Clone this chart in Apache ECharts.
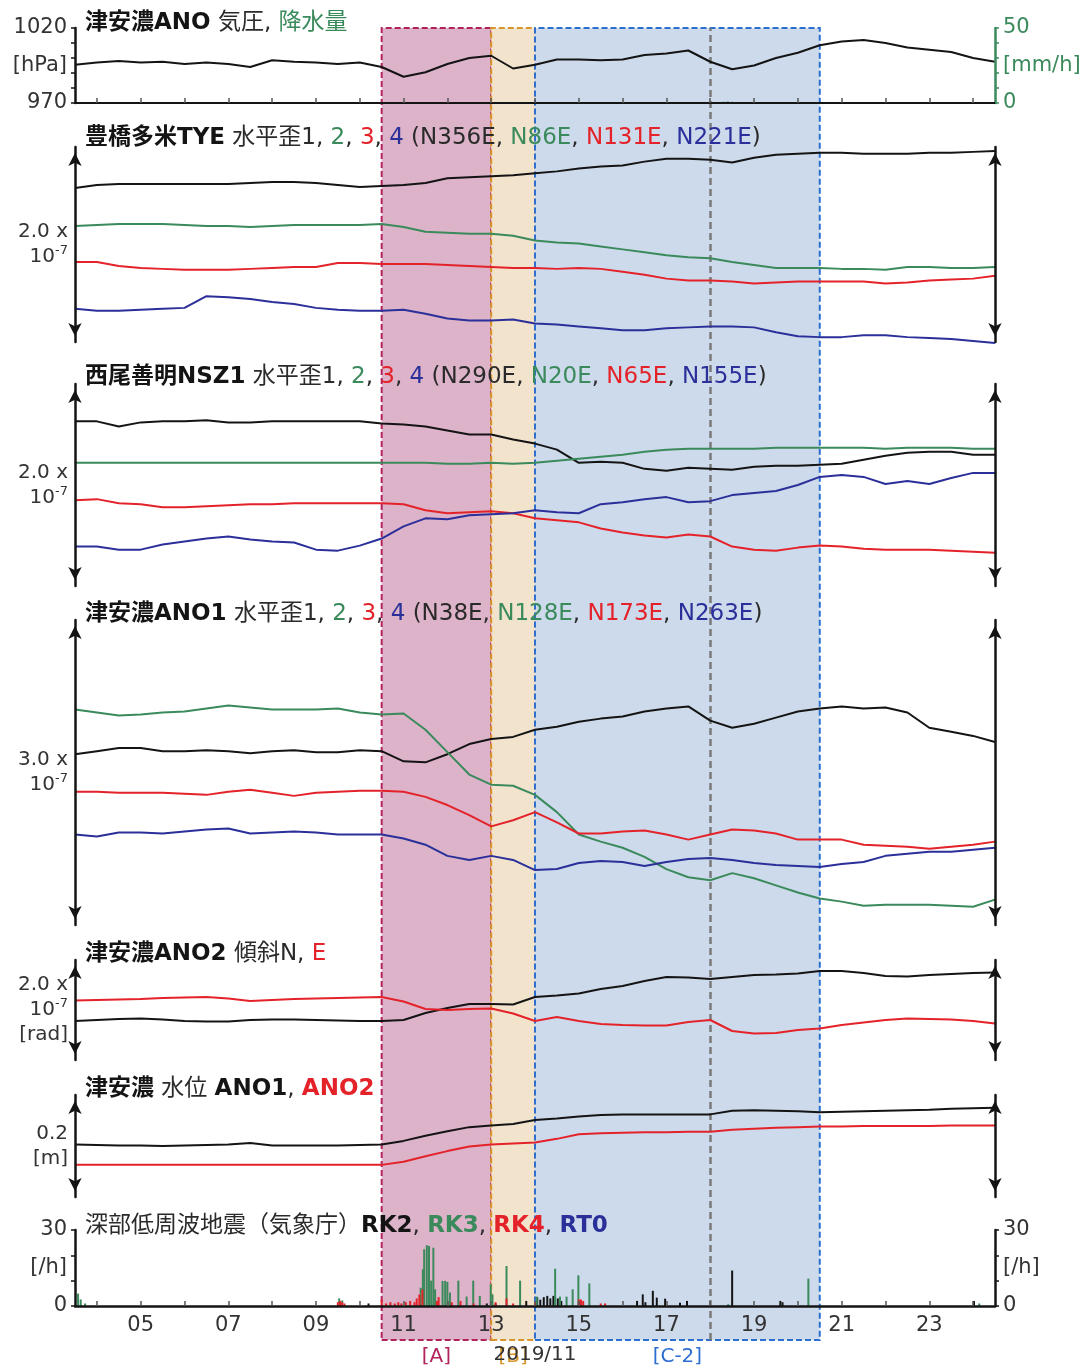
<!DOCTYPE html>
<html lang="ja">
<head>
<meta charset="utf-8">
<title>津安濃 観測データ 2019/11</title>
<script src="https://cdn.jsdelivr.net/npm/echarts@6.0.0/dist/echarts.min.js"></script>
<style>
html, body { margin: 0; padding: 0; background: #fff; }
#chart { width: 1089px; height: 1371px; }
</style>
</head>
<body>
<div id="chart"></div>
<script>
// ---- time axis: days of November 2019, 12-hour steps ----
const days = [3.5,4,4.5,5,5.5,6,6.5,7,7.5,8,8.5,9,9.5,10,10.5,11,11.5,12,12.5,13,13.5,14,14.5,15,15.5,16,16.5,17,17.5,18,18.5,19,19.5,20,20.5,21,21.5,22,22.5,23,23.5,24,24.5];
const tickDays = [4,5,6,7,8,9,10,11,12,13,14,15,16,17,18,19,20,21,22,23,24];
const labelDays = [5,7,9,11,13,15,17,19,21,23];

// ---- analysis periods ----
const periodNames = ['[A]', '[B]', '[C-2]'];
const periodStart = [10.5, 13, 14];
const periodEnd = [13, 14, 20.5];
const eventDay = 18;

// ---- 津安濃ANO: air pressure [hPa], precipitation [mm/h] ----
const pressure = [995.5,997,998,997,997.5,996,997,996,994,998.5,997.5,997,996,997,994,987.5,990.5,996,1000,1001.5,993,995.5,999,999,998.5,999,1002,1003,1005,997.5,992.5,995,1000,1003.5,1008.5,1011,1012,1010,1007,1005.5,1004,1000,997.5];
const rainfall = [[18.3,0.8],[18.4,1],[18.5,0.8]];

// ---- 豊橋多米TYE horizontal strain [1e-7] ----
const tyeN356E = [1.58,1.61,1.62,1.62,1.62,1.62,1.62,1.62,1.63,1.64,1.64,1.63,1.61,1.59,1.60,1.61,1.63,1.68,1.69,1.70,1.71,1.73,1.75,1.78,1.80,1.81,1.85,1.88,1.88,1.87,1.84,1.89,1.92,1.93,1.94,1.94,1.93,1.93,1.93,1.94,1.94,1.95,1.96];
const tyeN86E = [1.19,1.20,1.21,1.21,1.21,1.20,1.19,1.19,1.18,1.19,1.20,1.20,1.20,1.20,1.21,1.18,1.13,1.12,1.11,1.11,1.09,1.04,1.02,1.01,0.98,0.95,0.92,0.89,0.87,0.86,0.82,0.79,0.76,0.76,0.76,0.75,0.75,0.74,0.77,0.77,0.76,0.76,0.77];
const tyeN131E = [0.82,0.82,0.78,0.76,0.75,0.74,0.74,0.74,0.75,0.76,0.77,0.77,0.81,0.81,0.80,0.80,0.80,0.79,0.78,0.77,0.76,0.76,0.75,0.76,0.75,0.72,0.69,0.65,0.63,0.63,0.62,0.60,0.61,0.62,0.62,0.62,0.62,0.60,0.61,0.63,0.64,0.65,0.68];
const tyeN221E = [0.34,0.32,0.32,0.33,0.34,0.35,0.47,0.46,0.44,0.41,0.39,0.35,0.33,0.32,0.32,0.33,0.29,0.24,0.22,0.22,0.23,0.19,0.18,0.16,0.14,0.12,0.12,0.14,0.15,0.16,0.16,0.15,0.10,0.06,0.05,0.05,0.07,0.07,0.05,0.04,0.03,0.01,-0.01];

// ---- 西尾善明NSZ1 horizontal strain [1e-7] ----
const nszN290E = [1.63,1.63,1.58,1.62,1.63,1.63,1.64,1.62,1.62,1.63,1.63,1.63,1.63,1.63,1.61,1.60,1.58,1.54,1.50,1.50,1.45,1.41,1.35,1.22,1.23,1.22,1.16,1.14,1.17,1.16,1.15,1.18,1.19,1.19,1.20,1.21,1.25,1.29,1.32,1.33,1.33,1.30,1.30];
const nszN20E = [1.22,1.22,1.22,1.22,1.22,1.22,1.22,1.22,1.22,1.22,1.22,1.22,1.22,1.22,1.22,1.22,1.22,1.21,1.21,1.22,1.21,1.22,1.24,1.26,1.28,1.30,1.33,1.35,1.36,1.36,1.36,1.36,1.37,1.37,1.37,1.37,1.37,1.36,1.37,1.37,1.37,1.36,1.36];
const nszN65E = [0.85,0.86,0.82,0.81,0.78,0.78,0.79,0.80,0.81,0.81,0.82,0.82,0.82,0.82,0.82,0.81,0.75,0.72,0.73,0.74,0.72,0.67,0.65,0.63,0.57,0.53,0.50,0.48,0.51,0.49,0.39,0.36,0.35,0.38,0.40,0.39,0.37,0.36,0.36,0.36,0.35,0.34,0.33];
const nszN155E = [0.39,0.39,0.36,0.36,0.41,0.44,0.47,0.49,0.46,0.44,0.43,0.36,0.35,0.40,0.47,0.59,0.67,0.66,0.70,0.71,0.72,0.75,0.73,0.72,0.81,0.83,0.86,0.88,0.83,0.84,0.90,0.92,0.94,1.00,1.08,1.10,1.08,1.01,1.04,1.01,1.07,1.12,1.12];

// ---- 津安濃ANO1 horizontal strain [1e-7] ----
const ano1N38E = [1.68,1.71,1.74,1.74,1.71,1.71,1.72,1.71,1.69,1.71,1.72,1.70,1.70,1.72,1.71,1.61,1.60,1.68,1.78,1.83,1.85,1.92,1.95,2.00,2.03,2.05,2.10,2.13,2.15,2.01,1.94,1.98,2.04,2.10,2.13,2.15,2.13,2.14,2.09,1.94,1.90,1.86,1.80];
const ano1N128E = [2.12,2.09,2.06,2.07,2.09,2.10,2.13,2.16,2.14,2.12,2.12,2.12,2.13,2.09,2.07,2.08,1.92,1.70,1.48,1.38,1.37,1.28,1.11,0.89,0.82,0.76,0.67,0.55,0.47,0.44,0.51,0.46,0.39,0.32,0.26,0.23,0.19,0.20,0.20,0.20,0.19,0.18,0.25];
const ano1N173E = [1.31,1.31,1.30,1.30,1.30,1.29,1.28,1.31,1.33,1.30,1.27,1.30,1.31,1.32,1.32,1.31,1.26,1.18,1.08,0.97,1.03,1.11,1.01,0.90,0.90,0.92,0.93,0.89,0.84,0.89,0.94,0.93,0.90,0.84,0.84,0.84,0.79,0.78,0.77,0.75,0.77,0.79,0.82];
const ano1N263E = [0.89,0.87,0.91,0.91,0.90,0.92,0.94,0.95,0.90,0.91,0.92,0.91,0.89,0.89,0.89,0.85,0.79,0.68,0.64,0.68,0.64,0.54,0.55,0.61,0.63,0.62,0.58,0.62,0.65,0.66,0.64,0.61,0.59,0.58,0.57,0.60,0.62,0.68,0.70,0.72,0.72,0.74,0.76];

// ---- 津安濃ANO2 tilt [1e-7 rad] ----
const ano2TiltN = [0.78,0.80,0.82,0.83,0.81,0.78,0.77,0.77,0.80,0.81,0.81,0.80,0.79,0.78,0.78,0.80,0.94,1.04,1.12,1.12,1.11,1.26,1.29,1.33,1.42,1.48,1.58,1.66,1.65,1.62,1.66,1.70,1.71,1.73,1.78,1.78,1.74,1.68,1.67,1.70,1.72,1.74,1.75];
const ano2TiltE = [1.19,1.20,1.21,1.22,1.24,1.25,1.26,1.23,1.18,1.20,1.22,1.23,1.24,1.25,1.26,1.17,1.02,1.00,1.02,1.03,0.93,0.78,0.86,0.78,0.72,0.70,0.69,0.69,0.76,0.80,0.58,0.53,0.54,0.60,0.63,0.70,0.75,0.80,0.83,0.82,0.81,0.78,0.73];

// ---- 津安濃 groundwater level [m] ----
const waterANO1 = [0.103,0.102,0.101,0.101,0.100,0.101,0.102,0.103,0.106,0.101,0.101,0.101,0.101,0.102,0.103,0.110,0.120,0.129,0.137,0.140,0.143,0.151,0.154,0.158,0.161,0.162,0.162,0.162,0.162,0.162,0.169,0.170,0.169,0.168,0.166,0.167,0.168,0.169,0.170,0.171,0.173,0.174,0.175];
const waterANO2 = [0.063,0.063,0.063,0.063,0.063,0.063,0.063,0.063,0.063,0.063,0.063,0.063,0.063,0.063,0.063,0.069,0.080,0.090,0.099,0.103,0.105,0.107,0.114,0.123,0.125,0.126,0.127,0.127,0.128,0.128,0.132,0.134,0.136,0.137,0.138,0.138,0.139,0.139,0.139,0.139,0.140,0.140,0.140];

// ---- deep low-frequency tremor, events per hour [day, count] ----
const rk2Counts = [[10.2,1],[12.9,1],[13.1,1],[13.8,2],[14.05,3.5],[14.12,2.5],[14.2,3.5],[14.28,4],[14.35,3],[14.42,4],[14.52,3],[14.6,2],[15.0,1.5],[16.33,2],[16.46,4.6],[16.52,1.5],[16.69,6],[16.78,3.3],[16.97,2.9],[17.31,1.3],[17.47,2],[18.5,14],[19.6,2],[19.65,1.5],[24.02,2]];
const rk3Counts = [[3.57,4.9],[3.63,2.6],[3.73,1],[9.53,3],[9.6,2.2],[11.39,7.2],[11.44,14.5],[11.47,22.4],[11.53,24],[11.58,23.7],[11.63,10],[11.68,23],[11.72,6.6],[11.89,9.9],[11.95,9.9],[12.0,9.5],[12.06,5.3],[12.25,10],[12.44,3.7],[12.59,10],[12.74,4],[12.99,8.6],[13.03,4.6],[13.35,15.8],[13.66,10],[14.04,3.7],[14.46,14.7],[14.57,3.7],[14.72,3.7],[14.86,6.6],[14.99,12.1],[15.24,8.9],[18.41,0.7],[20.24,10.8],[24.14,1]];
const rk4Counts = [[9.5,1.5],[9.55,2],[9.6,1.5],[9.65,1],[10.5,2.5],[10.6,1],[10.7,1.5],[10.8,1],[10.88,1.5],[10.95,1],[11.05,1.5],[11.15,2],[11.25,1.5],[11.3,3],[11.36,4.5],[11.43,6.5],[11.76,2],[11.8,3.5],[12.1,1.5],[12.3,2],[12.6,1],[13.1,1.5],[13.35,3],[13.5,1],[14.0,1.5],[15.0,2.6],[15.05,2.6],[15.1,2],[15.5,1],[15.6,1]];
const rt0Counts = [];

// ---- styling ----
const FONT = '"DejaVu Sans", "Noto Sans CJK JP", sans-serif';
const INK = '#141414', TXT = '#333333';
const GREEN = '#3a8a5c', RED = '#e42229', BLUE = '#2b2f9a';
const periodFill = ['#dcb3c8', '#f2e3cd', '#cddaeb'];
const periodEdge = ['#b2225c', '#d9962c', '#2c6fd1'];
const LS = 21; // axis text size

const L = 75, W = 920;
const panels = [
  { top: 28, height: 1312 },  // backdrop for the period boxes
  { top: 28, height: 75 },    // pressure / rain
  { top: 147, height: 195 },  // TYE
  { top: 384, height: 202 },  // NSZ1
  { top: 620, height: 305 },  // ANO1
  { top: 960, height: 100 },  // ANO2 tilt
  { top: 1095, height: 102 }, // water level
  { top: 1230, height: 76 }   // tremor
];

const grid = panels.map(p => ({ left: L, width: W, top: p.top, height: p.height, containLabel: false, outerBoundsMode: 'none' }));

const pad2 = v => (v < 10 ? '0' : '') + v;
const xAxis = panels.map((p, i) => ({ gridIndex: i, type: 'value', min: 3.5, max: 24.5, show: false }));
xAxis[1] = {
  gridIndex: 1, type: 'value', min: 3.5, max: 24.5, z: 4,
  axisLine: { show: true, onZero: false, lineStyle: { color: INK, width: 2 } },
  axisTick: { show: true, inside: true, length: 5, customValues: tickDays, lineStyle: { color: '#555', width: 1.5 } },
  axisLabel: { show: false }, splitLine: { show: false }
};
xAxis[7] = {
  gridIndex: 7, type: 'value', min: 3.5, max: 24.5, z: 4,
  axisLine: { show: true, onZero: false, lineStyle: { color: INK, width: 2.5 } },
  axisTick: { show: true, inside: true, length: 5, customValues: tickDays, lineStyle: { color: '#555', width: 1.5 } },
  axisLabel: { customValues: labelDays, formatter: pad2, fontFamily: FONT, fontSize: LS, color: TXT, margin: 9 },
  splitLine: { show: false },
  name: '2019/11', nameLocation: 'middle', nameGap: 39, nameMoveOverlap: false,
  nameTextStyle: { fontFamily: FONT, fontSize: 20, color: TXT }
};

const supStyle = { fontFamily: FONT, fontSize: 13, lineHeight: 14, verticalAlign: 'top', color: TXT };
const nameStyle = { fontFamily: FONT, fontSize: 20, lineHeight: 25, color: TXT, align: 'right', verticalAlign: 'middle', rich: { sup: supStyle } };

function arrowAxis(gridIndex, max, position, name) {
  return {
    gridIndex, type: 'value', min: 0, max, position, z: 4,
    axisLine: { show: true, onZero: false, symbol: ['arrow', 'arrow'], symbolSize: [10, 13], symbolOffset: [6, -6], lineStyle: { color: INK, width: 2.5 } },
    axisTick: { show: false }, axisLabel: { show: false }, splitLine: { show: false },
    name: name || '', nameLocation: 'middle', nameRotate: 0, nameGap: 7, nameMoveOverlap: false,
    nameTextStyle: nameStyle
  };
}

function scaleAxis(gridIndex, min, max, interval, position, labels, name, color, textColor) {
  const right = position === 'right';
  return {
    gridIndex, type: 'value', min, max, interval, position, z: 4,
    axisLine: { show: true, onZero: false, lineStyle: { color, width: 2.5 } },
    axisTick: { show: true, length: 4, lineStyle: { color, width: 1.5 } },
    axisLabel: { customValues: labels, formatter: v => String(v), fontFamily: FONT, fontSize: LS, color: textColor, margin: 8 },
    splitLine: { show: false },
    name, nameLocation: 'middle', nameRotate: 0, nameGap: 8, nameMoveOverlap: false,
    nameTextStyle: { fontFamily: FONT, fontSize: LS, color: textColor, align: right ? 'left' : 'right', verticalAlign: 'middle' }
  };
}

const yAxis = [
  { gridIndex: 0, type: 'value', min: 0, max: 1, show: false },                  // 0
  scaleAxis(1, 970, 1020, 10, 'left', [970, 1020], '[hPa]', INK, TXT),            // 1
  scaleAxis(1, 0, 50, 10, 'right', [0, 50], '[mm/h]', GREEN, GREEN),              // 2
  arrowAxis(2, 2.0, 'left', '2.0 x\n10{sup|-7}'),                                  // 3
  arrowAxis(2, 2.0, 'right'),                                                      // 4
  arrowAxis(3, 2.0, 'left', '2.0 x\n10{sup|-7}'),                                  // 5
  arrowAxis(3, 2.0, 'right'),                                                      // 6
  arrowAxis(4, 3.0, 'left', '3.0 x\n10{sup|-7}'),                                  // 7
  arrowAxis(4, 3.0, 'right'),                                                      // 8
  arrowAxis(5, 2.0, 'left', '2.0 x\n10{sup|-7}\n[rad]'),                           // 9
  arrowAxis(5, 2.0, 'right'),                                                      // 10
  arrowAxis(6, 0.2, 'left', '0.2\n[m]'),                                           // 11
  arrowAxis(6, 0.2, 'right'),                                                      // 12
  scaleAxis(7, 0, 30, 10, 'left', [0, 30], '[/h]', INK, TXT),                     // 13
  scaleAxis(7, 0, 30, 10, 'right', [0, 30], '[/h]', INK, TXT)                     // 14
];

function trace(name, gridIndex, yAxisIndex, values, color) {
  return {
    name, type: 'line', xAxisIndex: gridIndex, yAxisIndex,
    data: days.map((d, i) => [d, values[i]]),
    symbol: 'none', showSymbol: false, clip: false, silent: true, z: 3,
    lineStyle: { color, width: 2 }, itemStyle: { color }
  };
}

function bars(name, gridIndex, yAxisIndex, counts, color) {
  return {
    name, type: 'bar', xAxisIndex: gridIndex, yAxisIndex, data: counts,
    barWidth: 2, barGap: '-100%', silent: true, z: 3, itemStyle: { color }
  };
}

const periodAreas = periodNames.map((n, i) => [
  {
    name: n, xAxis: periodStart[i],
    itemStyle: { color: periodFill[i], borderColor: periodEdge[i], borderWidth: 2, borderType: [6, 3] },
    label: { color: periodEdge[i] }
  },
  { xAxis: periodEnd[i] }
]);

const backdrop = {
  name: 'periods', type: 'line', xAxisIndex: 0, yAxisIndex: 0, data: [], silent: true,
  markArea: {
    silent: true, z: 1,
    label: { show: true, position: 'bottom', distance: 6, fontFamily: FONT, fontSize: 20 },
    data: periodAreas
  },
  markLine: {
    silent: true, z: 1, symbol: ['none', 'none'], label: { show: false },
    lineStyle: { type: [7, 4], color: '#7a7a7a', width: 2.5 },
    data: [{ xAxis: eventDay }]
  }
};

const TS = 23;
const titleRich = {
  k: { fontFamily: FONT, fontSize: TS, fontWeight: 'bold', color: INK },
  g: { fontFamily: FONT, fontSize: TS, color: GREEN },
  r: { fontFamily: FONT, fontSize: TS, color: RED },
  b: { fontFamily: FONT, fontSize: TS, color: BLUE },
  gb: { fontFamily: FONT, fontSize: TS, fontWeight: 'bold', color: GREEN },
  rb: { fontFamily: FONT, fontSize: TS, fontWeight: 'bold', color: RED },
  bb: { fontFamily: FONT, fontSize: TS, fontWeight: 'bold', color: BLUE }
};
function panelTitle(text, top) {
  return { text, left: 85, top, padding: 0, textStyle: { fontFamily: FONT, fontSize: TS, fontWeight: 'normal', color: '#2a2a2a', rich: titleRich } };
}

const option = {
  backgroundColor: '#ffffff',
  animation: false,
  title: [
    panelTitle('{k|津安濃ANO} 気圧, {g|降水量}', 12),
    panelTitle('{k|豊橋多米TYE} 水平歪1, {g|2}, {r|3}, {b|4} (N356E, {g|N86E}, {r|N131E}, {b|N221E})', 127),
    panelTitle('{k|西尾善明NSZ1} 水平歪1, {g|2}, {r|3}, {b|4} (N290E, {g|N20E}, {r|N65E}, {b|N155E})', 366),
    panelTitle('{k|津安濃ANO1} 水平歪1, {g|2}, {r|3}, {b|4} (N38E, {g|N128E}, {r|N173E}, {b|N263E})', 603),
    panelTitle('{k|津安濃ANO2} 傾斜N, {r|E}', 943),
    panelTitle('{k|津安濃} 水位 {k|ANO1}, {rb|ANO2}', 1078),
    panelTitle('深部低周波地震（気象庁）{k|RK2}, {gb|RK3}, {rb|RK4}, {bb|RT0}', 1215)
  ],
  grid, xAxis, yAxis,
  series: [
    backdrop,
    trace('気圧', 1, 1, pressure, INK),
    bars('降水量', 1, 2, rainfall, GREEN),
    trace('TYE N356E', 2, 3, tyeN356E, INK),
    trace('TYE N86E', 2, 3, tyeN86E, GREEN),
    trace('TYE N131E', 2, 3, tyeN131E, RED),
    trace('TYE N221E', 2, 3, tyeN221E, BLUE),
    trace('NSZ1 N290E', 3, 5, nszN290E, INK),
    trace('NSZ1 N20E', 3, 5, nszN20E, GREEN),
    trace('NSZ1 N65E', 3, 5, nszN65E, RED),
    trace('NSZ1 N155E', 3, 5, nszN155E, BLUE),
    trace('ANO1 N38E', 4, 7, ano1N38E, INK),
    trace('ANO1 N128E', 4, 7, ano1N128E, GREEN),
    trace('ANO1 N173E', 4, 7, ano1N173E, RED),
    trace('ANO1 N263E', 4, 7, ano1N263E, BLUE),
    trace('ANO2 N', 5, 9, ano2TiltN, INK),
    trace('ANO2 E', 5, 9, ano2TiltE, RED),
    trace('水位 ANO1', 6, 11, waterANO1, INK),
    trace('水位 ANO2', 6, 11, waterANO2, RED),
    bars('RK2', 7, 13, rk2Counts, INK),
    bars('RK3', 7, 13, rk3Counts, GREEN),
    bars('RK4', 7, 13, rk4Counts, RED),
    bars('RT0', 7, 13, rt0Counts, BLUE)
  ]
};

const chart = echarts.init(document.getElementById('chart'), null, { renderer: 'canvas' });
chart.setOption(option);
</script>
</body>
</html>
